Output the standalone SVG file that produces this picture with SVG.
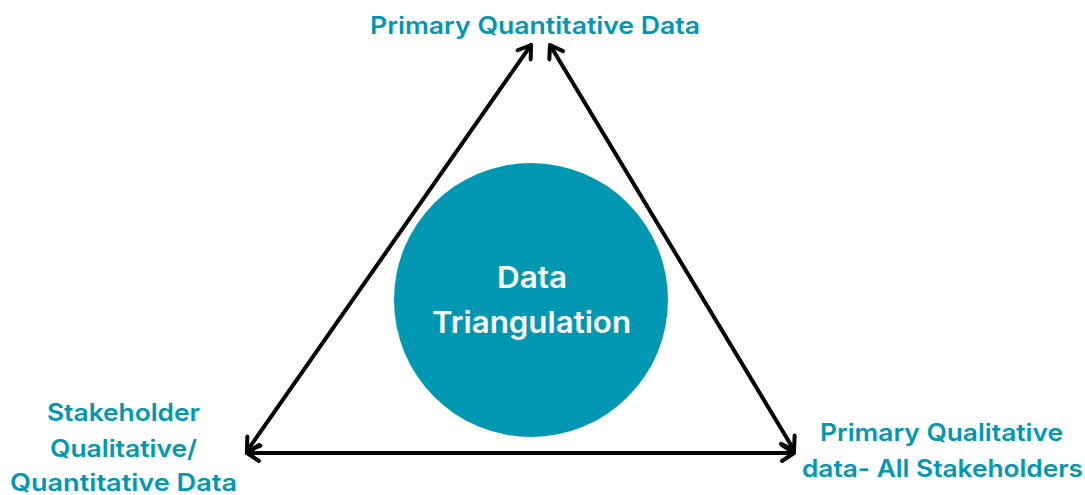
<svg xmlns="http://www.w3.org/2000/svg" width="1085" height="495" viewBox="0 0 1085 495">
  <style>
    .label { font-family: Inter, "Open Sans", "DejaVu Sans", sans-serif; font-weight: 600; font-size: 24px; fill: #0097B2; text-anchor: middle; }
    .center { font-family: Inter, "Open Sans", "DejaVu Sans", sans-serif; font-weight: 600; font-size: 30px; fill: #FFFFFF; text-anchor: middle; }
    .edge { stroke: #000000; stroke-width: 4; stroke-linecap: round; fill: none; marker-start: url(#head); marker-end: url(#head); }
  </style>
  <defs>
    <marker id="head" viewBox="-16 -10 20 20" markerWidth="20" markerHeight="20" refX="0" refY="0" markerUnits="userSpaceOnUse" orient="auto-start-reverse">
      <path d="M -12 -8 L 0 0 L -12 8" fill="none" stroke="#000000" stroke-width="4" stroke-linecap="round" stroke-linejoin="round"/>
    </marker>
  </defs>
  <rect width="1085" height="495" fill="#FFFFFF"/>

  <g id="connectors">
    <line class="edge" x1="531" y1="45" x2="247" y2="451"/>
    <line class="edge" x1="550" y1="45" x2="794" y2="450"/>
    <line class="edge" x1="247" y1="453" x2="794" y2="453"/>
  </g>

  <g id="hub">
    <circle cx="531" cy="300" r="137" fill="#0097B2"/>
    <text class="center" x="532" y="288" textLength="70" lengthAdjust="spacingAndGlyphs">Data</text>
    <text class="center" x="531.5" y="333" textLength="199" lengthAdjust="spacingAndGlyphs">Triangulation</text>
  </g>

  <g id="top-node">
    <text class="label" x="535" y="34" textLength="330" lengthAdjust="spacingAndGlyphs">Primary Quantitative Data</text>
  </g>

  <g id="left-node">
    <text class="label" x="123.5" y="421" textLength="153" lengthAdjust="spacingAndGlyphs">Stakeholder</text>
    <text class="label" x="123.5" y="457" textLength="147" lengthAdjust="spacingAndGlyphs">Qualitative/</text>
    <text class="label" x="123.5" y="491" textLength="227" lengthAdjust="spacingAndGlyphs">Quantitative Data</text>
  </g>

  <g id="right-node">
    <text class="label" x="941.5" y="441" textLength="243" lengthAdjust="spacingAndGlyphs">Primary Qualitative</text>
    <text class="label" x="942.5" y="477" textLength="281" lengthAdjust="spacingAndGlyphs">data- All Stakeholders</text>
  </g>
</svg>
